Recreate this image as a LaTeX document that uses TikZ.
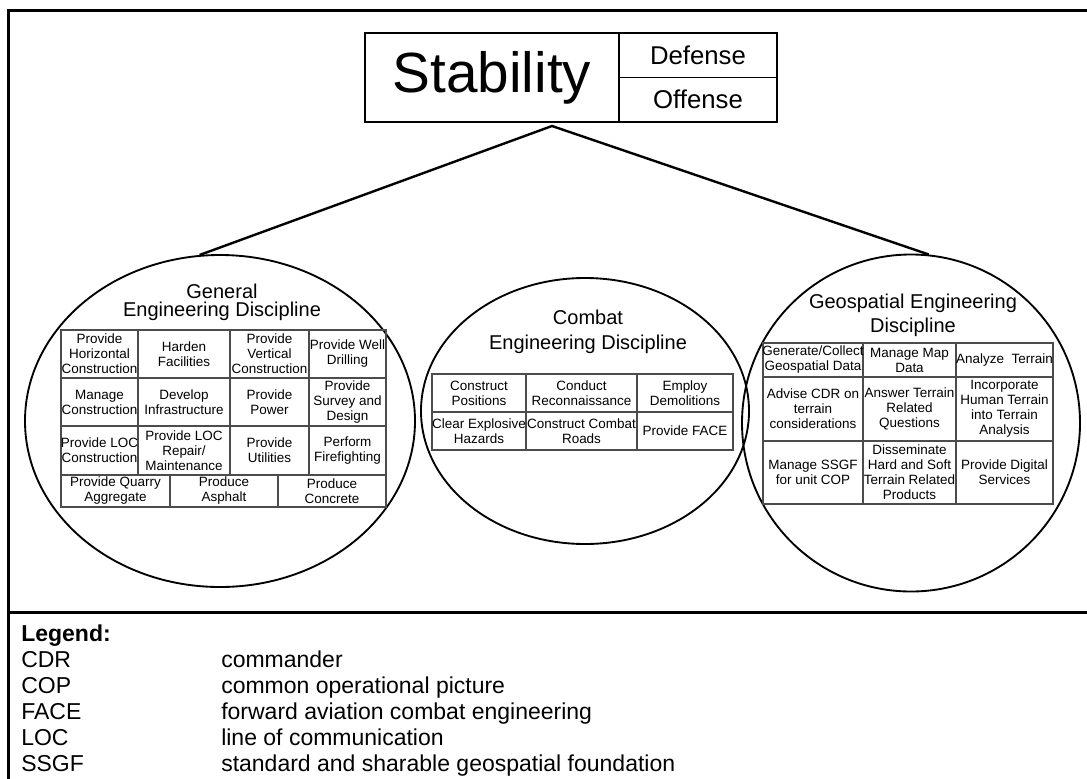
\documentclass[tikz,border=0pt]{standalone}
\usepackage{fontspec}
\setmainfont{Liberation Sans}
\usetikzlibrary{shapes}
\usetikzlibrary{positioning}
\tikzset{
    outline/.style = {line width=2.25pt,draw=black},
    stabbox/.style = {rectangle, draw=black, line width=1.2pt, inner sep=0pt, outer sep=0pt},
    disc/.style = {ellipse, draw=black, line width=1.4pt, inner sep=0pt},
    link/.style = {line width=1.8pt, draw=black, line join=miter},
    tabline/.style = {draw=black!70, line width=0.8pt},
    ttl/.style = {align=center, inner sep=0pt},
    cellt/.style = {align=center, inner sep=0pt, font=\fontsize{10.1}{11.25}\selectfont},
    legtext/.style = {anchor=base west, inner sep=0pt, font=\fontsize{17.25}{20}\selectfont}
}
\begin{document}
\begin{tikzpicture}[x=0.75pt, y=-0.75pt]
  \useasboundingbox (0,0) rectangle (1087,778);
  % frame and legend rule
  \draw[outline] (1100,10) -- (8,10) -- (8,790);
  \draw[outline] (8,612) -- (1100,612);

  \node[stabbox, minimum width=190.5pt, minimum height=66.75pt, font=\fontsize{42.5}{48}\selectfont] (stab) at (492,77.5) {Stability};
  \node[stabbox, minimum width=118.5pt, minimum height=33.375pt, font=\fontsize{19.3}{22}\selectfont, anchor=north west] (def) at (stab.north east) {Defense};
  \node[stabbox, minimum width=118.5pt, minimum height=33.375pt, font=\fontsize{19.3}{22}\selectfont, below=0pt of def] (off) {Offense};

  \node[disc, minimum width=292.5pt, minimum height=249pt] (gen) at (220,421) {};
  \node[disc, minimum width=246pt, minimum height=199.5pt] (cbt) at (585,411) {};
  \node[disc, minimum width=253.5pt, minimum height=252.75pt] (geo) at (911,423) {};

  \coordinate (apex) at (552,126);
  \draw[link] (gen.97) -- (apex) -- (geo.84);

  \node[ttl, font=\fontsize{15}{13.5}\selectfont] (gent) at (222,302) {General\\Engineering Discipline};
  \node[ttl, font=\fontsize{15}{18.75}\selectfont] (cbtt) at (588,332) {Combat\\Engineering Discipline};
  \node[ttl, font=\fontsize{15}{18}\selectfont] (geot) at (913,315) {Geospatial Engineering\\Discipline};

  % general engineering table
  \draw[tabline] (61,330) rectangle (386,507);
  \draw[tabline] (61,378) -- (386,378) (61,426) -- (386,426) (61,475) -- (386,475);
  \draw[tabline] (138,330) -- (138,475) (230,330) -- (230,475) (309,330) -- (309,475);
  \draw[tabline] (170,475) -- (170,507) (278,475) -- (278,507);
  \node[cellt] (g11) at (99.5,354) {Provide\\Horizontal\\Construction};
  \node[cellt] (g12) at (184,354) {Harden\\Facilities};
  \node[cellt] (g13) at (269.5,354) {Provide\\Vertical\\Construction};
  \node[cellt] (g14) at (347.5,354) {Provide Well\\Drilling};
  \node[cellt] (g21) at (99.5,402) {Manage\\Construction};
  \node[cellt] (g22) at (184,402) {Develop\\Infrastructure};
  \node[cellt] (g23) at (269.5,402) {Provide\\Power};
  \node[cellt] (g24) at (347.5,402) {Provide\\Survey and\\Design};
  \node[cellt] (g31) at (99.5,450.5) {Provide LOC\\Construction};
  \node[cellt] (g32) at (184,450.5) {Provide LOC\\Repair/\\Maintenance};
  \node[cellt] (g33) at (269.5,450.5) {Provide\\Utilities};
  \node[cellt] (g34) at (347.5,450.5) {Perform\\Firefighting};
  \node[cellt] (g41) at (115.5,491) {Provide Quarry\\Aggregate};
  \node[cellt] (g42) at (224,491) {Produce\\Asphalt};
  \node[cellt] (g43) at (332,491) {Produce\\Concrete};

  % combat engineering table
  \draw[tabline] (432,374) rectangle (733,450);
  \draw[tabline] (432,412) -- (733,412);
  \draw[tabline] (526,374) -- (526,450) (637,374) -- (637,450);
  \node[cellt] (c11) at (479,393) {Construct\\Positions};
  \node[cellt] (c12) at (581.5,393) {Conduct\\Reconnaissance};
  \node[cellt] (c13) at (685,393) {Employ\\Demolitions};
  \node[cellt] (c21) at (479,431) {Clear Explosive\\Hazards};
  \node[cellt] (c22) at (581.5,431) {Construct Combat\\Roads};
  \node[cellt] (c23) at (685,431) {Provide FACE};

  % geospatial engineering table
  \draw[tabline] (763,343) rectangle (1053,504);
  \draw[tabline] (763,377) -- (1053,377) (763,441) -- (1053,441);
  \draw[tabline] (863,343) -- (863,504) (956,343) -- (956,504);
  \node[cellt] (s11) at (813,360) {Generate/Collect\\Geospatial Data};
  \node[cellt] (s12) at (909.5,360) {Manage Map\\Data};
  \node[cellt] (s13) at (1004.5,360) {Analyze\ \ Terrain};
  \node[cellt] (s21) at (813,409) {Advise CDR on\\terrain\\considerations};
  \node[cellt] (s22) at (909.5,409) {Answer Terrain\\Related\\Questions};
  \node[cellt] (s23) at (1004.5,409) {Incorporate\\Human Terrain\\into Terrain\\Analysis};
  \node[cellt] (s31) at (813,472.5) {Manage SSGF\\for unit COP};
  \node[cellt] (s32) at (909.5,472.5) {Disseminate\\Hard and Soft\\Terrain Related\\Products};
  \node[cellt] (s33) at (1004.5,472.5) {Provide Digital\\Services};

  % legend
  \node[legtext, font=\bfseries\fontsize{17.25}{20}\selectfont] (leg) at (21,641) {Legend:};
  \node[legtext] (cdr) at (21,667) {CDR};
  \node[legtext] (cop) at (21,693) {COP};
  \node[legtext] (face) at (21,719) {FACE};
  \node[legtext] (loc) at (21,745) {LOC};
  \node[legtext] (ssgf) at (21,771) {SSGF};
  \node[legtext] (cdrd) at (221,667) {commander};
  \node[legtext] (copd) at (221,693) {common operational picture};
  \node[legtext] (faced) at (221,719) {forward aviation combat engineering};
  \node[legtext] (locd) at (221,745) {line of communication};
  \node[legtext] (ssgfd) at (221,771) {standard and sharable geospatial foundation};
\end{tikzpicture}
\end{document}
